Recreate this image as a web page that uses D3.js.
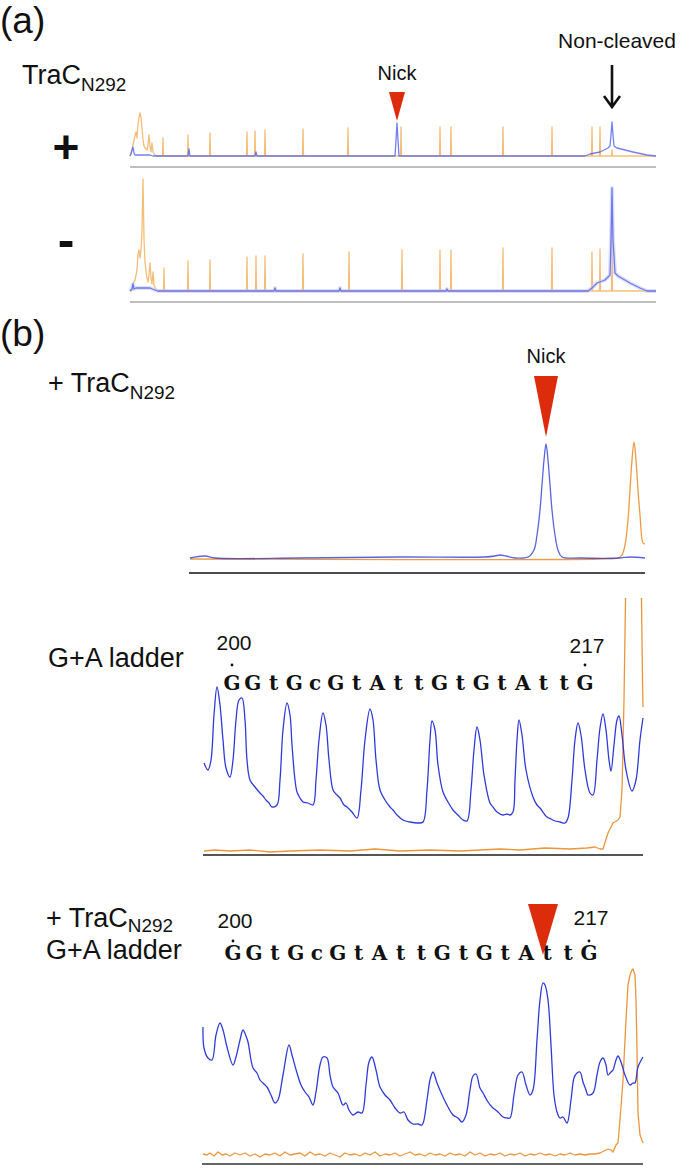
<!DOCTYPE html>
<html>
<head>
<meta charset="utf-8">
<script src="https://cdnjs.cloudflare.com/ajax/libs/d3/7.8.5/d3.min.js"></script>
<style>
    body { margin: 0; background: #fff; }
    text { font-family: "Liberation Sans", Arial, sans-serif; fill: #111; }
    .seq { font-family: "DejaVu Serif", serif; font-weight: bold; }
</style>
</head>
<body>
<div id="figure"></div>
<script>

// ---------- Panel (a): full capillary traces, [scan, RFU] ----------
var aScanMax = 5260;

// orange size-standard trace, low-size cluster then isolated peaks
var aPlusOrangeCluster = [[0,0],[20,300],[40,800],[60,1200],[70,900],[80,1600],[90,1900],[100,2150],[110,1950],[120,1400],[130,800],[140,500],[150,400],[170,300],[180,550],[190,1050],[200,500],[210,200],[220,650],[230,200],[250,50],[270,0]];
var aPlusOrangePeaks = [[330,900],[580,1050],[800,1150],[1170,1200],[1250,1250],[1350,1300],[1730,1350],[2180,1400],[2710,1450],[3100,1450],[3210,1450],[3730,1450],[4220,1450],[4620,1450],[4700,1450],[4820,300]];
var aPlusBlue = [[0,0],[10,100],[20,300],[30,450],[40,150],[50,50],[200,50],[230,0],[580,0],[590,350],[600,0],[1250,0],[1260,200],[1270,0],[2650,0],[2660,800],[2670,1650],[2680,800],[2690,0],[4550,0],[4600,100],[4700,200],[4780,400],[4800,500],[4810,1050],[4820,1700],[4830,1050],[4840,500],[4870,400],[5030,200],[5170,50],[5260,0]];

var aMinusOrangeCluster = [[0,0],[20,50],[30,350],[50,550],[70,1050],[80,1800],[90,2050],[100,1650],[110,2050],[120,3050],[130,5600],[140,2550],[150,1450],[160,950],[170,650],[180,450],[190,800],[200,1400],[210,650],[220,350],[230,950],[240,300],[260,50],[280,0]];
var aMinusOrangePeaks = [[340,1150],[580,1500],[800,1550],[1170,1700],[1260,1750],[1350,1750],[1730,1850],[2190,1950],[2720,2050],[3100,2050],[3210,2050],[3730,2150],[4220,2150],[4620,1950],[4700,2100],[4820,3550]];
var aMinusBlue = [[0,0],[20,100],[30,350],[40,100],[60,150],[200,150],[250,50],[280,0],[1440,0],[1450,150],[1460,0],[2090,0],[2100,150],[2110,0],[3160,0],[3170,100],[3180,0],[4580,0],[4620,150],[4670,400],[4750,550],[4800,800],[4810,2550],[4820,5150],[4830,2550],[4850,900],[4880,750],[5000,400],[5100,150],[5170,0],[5260,0]];

var aNickScan = 2670;
var aUncutScan = 4820;

// ---------- Panel (b): zoomed region, [scan, RFU] ----------
var b1Blue = [[0,20],[30,60],[50,20],[220,20],[420,40],[590,40],[610,60],[620,80],[632,60],[650,20],[676,40],[688,180],[694,480],[700,980],[704,1480],[708,1980],[712,2300],[716,1980],[720,1480],[724,980],[730,480],[736,180],[744,40],[780,20],[860,20],[880,40],[910,20]];
var b1Orange = [[0,0],[820,0],[856,20],[864,80],[870,280],[876,780],[880,1380],[884,1980],[888,2340],[892,1980],[896,1380],[900,880],[906,320],[910,300]];
var b1NickScan = 712;

var b2Blue = [[2,890],[10,820],[16,920],[22,1370],[28,1650],[34,1470],[40,1120],[46,840],[54,750],[60,920],[66,1320],[72,1520],[78,1540],[84,1320],[88,920],[94,720],[104,650],[114,590],[120,560],[126,520],[132,490],[138,450],[148,470],[154,720],[160,1220],[168,1490],[174,1370],[178,1070],[184,720],[188,600],[194,540],[200,500],[210,490],[220,470],[226,720],[232,1120],[240,1390],[246,1270],[252,920],[260,620],[266,580],[274,540],[282,470],[288,450],[298,400],[308,340],[316,620],[324,1120],[334,1430],[340,1320],[346,920],[354,620],[364,520],[374,450],[380,420],[388,370],[400,320],[414,300],[430,290],[440,300],[448,620],[454,1120],[458,1310],[464,1220],[470,870],[480,600],[490,500],[500,420],[510,370],[520,320],[528,310],[536,620],[542,1020],[548,1250],[554,1120],[562,770],[574,490],[580,450],[588,400],[600,370],[608,380],[614,370],[620,400],[624,720],[628,1120],[632,1320],[638,1170],[646,820],[660,550],[668,470],[674,440],[688,350],[696,330],[704,310],[714,300],[724,290],[730,340],[738,720],[744,1120],[750,1290],[756,1170],[764,820],[774,590],[780,570],[788,920],[794,1240],[800,1380],[806,1220],[812,920],[816,810],[822,1070],[828,1320],[832,1360],[838,1170],[846,820],[858,610],[866,720],[874,1120],[880,1340]];
var b2Orange = [[2,10],[24,20],[54,10],[94,20],[134,0],[174,10],[234,20],[294,10],[344,30],[394,10],[454,20],[514,10],[554,20],[594,30],[634,20],[684,40],[734,30],[768,40],[784,50],[794,30],[800,30],[810,190],[820,290],[830,320],[834,350],[838,620],[842,1520],[845,2520],[848,3500],[862,6000],[876,3500],[877,2520],[879,1720],[880,1450]];

var b3Blue = [[0,1280],[2,1070],[10,970],[18,950],[26,1200],[34,1320],[40,1250],[48,1080],[60,900],[66,980],[74,1150],[80,1250],[86,1190],[90,1130],[100,870],[108,820],[114,750],[122,710],[128,680],[136,600],[144,520],[150,550],[160,800],[172,1100],[178,1000],[188,820],[196,700],[204,630],[212,580],[220,500],[226,630],[234,900],[240,980],[248,970],[254,800],[260,680],[270,620],[280,500],[286,520],[292,450],[300,400],[310,430],[318,420],[326,700],[332,930],[338,980],[346,850],[354,680],[364,600],[374,550],[384,470],[394,420],[402,430],[410,350],[420,310],[430,310],[438,300],[448,550],[454,750],[460,830],[468,720],[480,580],[490,480],[500,400],[510,370],[518,330],[526,400],[534,650],[540,790],[546,810],[554,670],[560,620],[570,530],[578,480],[590,430],[600,380],[608,370],[614,370],[622,600],[630,800],[638,830],[646,700],[654,600],[660,650],[668,1150],[674,1550],[680,1720],[684,1700],[690,1550],[696,1100],[702,600],[708,430],[714,370],[720,380],[728,320],[736,550],[742,770],[748,820],[754,830],[760,730],[766,650],[770,600],[780,620],[788,800],[794,930],[800,970],[806,900],[810,800],[816,830],[820,850],[826,950],[830,990],[836,930],[844,800],[854,700],[860,720],[864,720],[870,880],[880,980]];
var b3Orange = [[0,10],[8,0],[14,20],[22,-10],[30,30],[38,0],[46,10],[54,-10],[64,20],[74,0],[84,20],[94,-10],[104,10],[114,-20],[124,10],[134,0],[144,20],[154,-10],[164,30],[174,0],[184,10],[194,20],[204,-10],[214,30],[224,0],[234,10],[244,-10],[254,20],[264,0],[274,-20],[284,20],[294,0],[304,10],[314,-10],[324,20],[334,0],[344,30],[354,-10],[364,10],[374,0],[384,20],[394,-10],[404,10],[414,30],[424,0],[434,10],[444,-10],[454,20],[464,0],[474,10],[484,-10],[494,20],[504,0],[514,10],[524,-10],[534,30],[544,0],[554,20],[564,-10],[574,10],[584,0],[594,20],[604,-10],[614,10],[624,0],[634,20],[644,-10],[654,10],[664,0],[674,20],[684,0],[694,10],[704,-10],[714,10],[724,0],[734,20],[744,0],[754,10],[764,0],[774,10],[784,10],[794,20],[802,40],[810,60],[816,50],[820,30],[826,100],[830,120],[834,350],[840,750],[846,1350],[850,1700],[854,1800],[858,1850],[860,1860],[864,1800],[866,1550],[868,1050],[870,420],[874,200],[880,120]];
var b3NickScan = 680;

// G+A ladder read-out
var seqLetters = ["G","G","t","G","c","G","t","A","t","t","G","t","G","t","A","t","t","G"];
var seqPositions = [200, 217];

// ---------- drawing ----------
var W = 680, H = 1169;
var blueA = "#5060ec", orangeA = "#f2ad55";
var blueB = "#2430d6", orangeB = "#eb9030";
var red = "#dc2c0c";

var svg = d3.select('#figure')
    .append('svg')
    .attr('width', W)
    .attr('height', H);

function drawTrace(g, pts, x, y, color, width, opacity, curve) {
    var line = d3.line()
        .curve(curve || d3.curveLinear)
        .x(function(d) { return x(d[0]); })
        .y(function(d) { return y(d[1]); });
    return g.append('path')
        .datum(pts)
        .attr('fill', 'none')
        .attr('stroke', color)
        .attr('stroke-width', width)
        .attr('stroke-opacity', opacity)
        .attr('stroke-linejoin', 'round')
        .attr('d', line);
}

// baseline + narrow spikes for the size standard
function withPeaks(cluster, peaks, end) {
    var pts = cluster.slice();
    peaks.forEach(function(p) {
        pts.push([p[0] - 5, 0], [p[0], p[1]], [p[0] + 5, 0]);
    });
    pts.push([end, 0]);
    return pts.sort(function(a, b) { return a[0] - b[0]; });
}

function triangle(cx, tipY, w, h) {
    return 'M' + (cx - w / 2) + ',' + (tipY - h) + 'L' + (cx + w / 2) + ',' + (tipY - h) + 'L' + cx + ',' + tipY + 'Z';
}

function traLabel(x, y, size, plus, subDy) {
    var t = svg.append('text')
        .attr('x', x)
        .attr('y', y)
        .style('font-size', size + 'px');
    t.append('tspan').text((plus ? '+ ' : '') + 'TraC');
    t.append('tspan')
        .attr('dy', subDy || 7)
        .style('font-size', (size * 0.7) + 'px')
        .text('N292');
    return t;
}

var smooth = d3.curveCatmullRom.alpha(0.5);

// ----- panel (a) -----
svg.append('text').attr('x', 0).attr('y', 33).style('font-size', '37px').text('(a)');
traLabel(22, 84, 27, false);

var aX = d3.scaleLinear().domain([0, aScanMax]).range([130, 656]);
var aPlusY = d3.scaleLinear().domain([0, 5000]).range([156, 56]);
var aMinusY = d3.scaleLinear().domain([0, 5000]).range([291, 191]);

var gA = svg.append('g');
drawTrace(gA, withPeaks(aPlusOrangeCluster, aPlusOrangePeaks, aScanMax), aX, aPlusY, orangeA, 1.3, 0.8);
drawTrace(gA, aPlusBlue, aX, aPlusY, blueA, 1.3, 0.8);
drawTrace(gA, withPeaks(aMinusOrangeCluster, aMinusOrangePeaks, aScanMax), aX, aMinusY, orangeA, 1.3, 0.8);
drawTrace(gA, aMinusBlue, aX, aMinusY, "#c8ccf4", 4, 0.6);
drawTrace(gA, aMinusBlue, aX, aMinusY, blueA, 1.3, 0.8);

// grey frame lines
[aPlusY(0) + 11, aMinusY(0) + 11].forEach(function(yy) {
    gA.append('line')
        .attr('x1', aX.range()[0]).attr('x2', aX.range()[1])
        .attr('y1', yy).attr('y2', yy)
        .attr('stroke', '#aaa').attr('stroke-width', 1.5);
});

svg.append('text').attr('x', 66).attr('y', 163).attr('text-anchor', 'middle')
    .style('font-size', '46px').style('font-weight', 'bold').text('+');
svg.append('text').attr('x', 66).attr('y', 257).attr('text-anchor', 'middle')
    .style('font-size', '50px').style('font-weight', 'bold').text('-');

// nick marker
svg.append('text').attr('x', aX(aNickScan)).attr('y', 80).attr('text-anchor', 'middle')
    .style('font-size', '20px').text('Nick');
svg.append('path').attr('d', triangle(aX(aNickScan), 121, 16, 29)).attr('fill', red);

// non-cleaved arrow
svg.append('text').attr('x', 617).attr('y', 48).attr('text-anchor', 'middle')
    .style('font-size', '21px').text('Non-cleaved');
svg.append('path')
    .attr('d', 'M' + aX(aUncutScan) + ',65V107M' + (aX(aUncutScan) - 8) + ',96L' + aX(aUncutScan) + ',107L' + (aX(aUncutScan) + 8) + ',96')
    .attr('fill', 'none').attr('stroke', '#111').attr('stroke-width', 2.6);

// ----- panel (b) -----
svg.append('text').attr('x', 0).attr('y', 346).style('font-size', '37px').text('(b)');

// b1: TraC alone
var b1X = d3.scaleLinear().domain([0, 910]).range([190, 645]);
var b1Y = d3.scaleLinear().domain([0, 6000]).range([559, 259]);
var gB1 = svg.append('g');
drawTrace(gB1, b1Orange, b1X, b1Y, orangeB, 1.3, 0.9, smooth);
drawTrace(gB1, b1Blue, b1X, b1Y, blueB, 1.3, 0.75, smooth);
gB1.append('line').attr('x1', 189).attr('x2', 645).attr('y1', b1Y(0) + 14).attr('y2', b1Y(0) + 14)
    .attr('stroke', '#111').attr('stroke-width', 1.6);

traLabel(48, 392, 27, true);
svg.append('text').attr('x', b1X(b1NickScan)).attr('y', 363).attr('text-anchor', 'middle')
    .style('font-size', '20px').text('Nick');
svg.append('path').attr('d', triangle(b1X(b1NickScan), 437, 24, 61)).attr('fill', red);

// sequence read-out helper
function drawSequence(seqX, baseY, dotY, numY) {
    svg.selectAll(null)
        .data(seqLetters)
        .enter()
        .append('text')
        .attr('class', 'seq')
        .attr('x', function(d, i) { return seqX(i); })
        .attr('y', baseY)
        .attr('text-anchor', 'middle')
        .style('font-size', '20px')
        .text(function(d) { return d; });

    var ends = [0, seqLetters.length - 1];
    ends.forEach(function(idx, k) {
        svg.append('circle').attr('cx', seqX(idx)).attr('cy', dotY).attr('r', 1.4).attr('fill', '#111');
        svg.append('text').attr('x', seqX(idx) + 2).attr('y', numY[k]).attr('text-anchor', 'middle')
            .style('font-size', '21px').text(seqPositions[k]);
    });
}

// b2: G+A ladder
var b2X = d3.scaleLinear().domain([0, 880]).range([203, 643]);
var b2Y = d3.scaleLinear().domain([0, 2540]).range([852, 598]);
var seq2X = d3.scalePoint().domain(d3.range(seqLetters.length)).range([232, 585]);

svg.append('clipPath').attr('id', 'clipB2')
    .append('rect').attr('x', 203).attr('y', 598).attr('width', 441).attr('height', 262);
var gB2 = svg.append('g').attr('clip-path', 'url(#clipB2)');
drawTrace(gB2, b2Orange, b2X, b2Y, orangeB, 1.3, 0.95);
drawTrace(gB2, b2Blue, b2X, b2Y, blueB, 1.3, 0.95, smooth);
svg.append('line').attr('x1', 203).attr('x2', 643).attr('y1', b2Y(0) + 3).attr('y2', b2Y(0) + 3)
    .attr('stroke', '#555').attr('stroke-width', 2);

svg.append('text').attr('x', 48).attr('y', 667).style('font-size', '27px').text('G+A ladder');
drawSequence(seq2X, 690, 665, [650, 653]);

// b3: TraC + G+A ladder
var b3X = d3.scaleLinear().domain([0, 880]).range([203, 643]);
var b3Y = d3.scaleLinear().domain([0, 2000]).range([1155, 955]);
var seq3X = d3.scalePoint().domain(d3.range(seqLetters.length)).range([233, 589]);

var gB3 = svg.append('g');
drawTrace(gB3, b3Orange, b3X, b3Y, orangeB, 1.3, 0.95);
drawTrace(gB3, b3Blue, b3X, b3Y, blueB, 1.3, 0.95, smooth);
svg.append('line').attr('x1', 202).attr('x2', 643).attr('y1', b3Y(0) + 9).attr('y2', b3Y(0) + 9)
    .attr('stroke', '#666').attr('stroke-width', 2);

traLabel(46, 927, 27, true, 5);
svg.append('text').attr('x', 46).attr('y', 959).style('font-size', '27px').text('G+A ladder');
drawSequence(seq3X, 960, 941, [928, 925]);
svg.append('path').attr('d', triangle(b3X(b3NickScan), 955, 30, 51)).attr('fill', red);

</script>
</body>
</html>
